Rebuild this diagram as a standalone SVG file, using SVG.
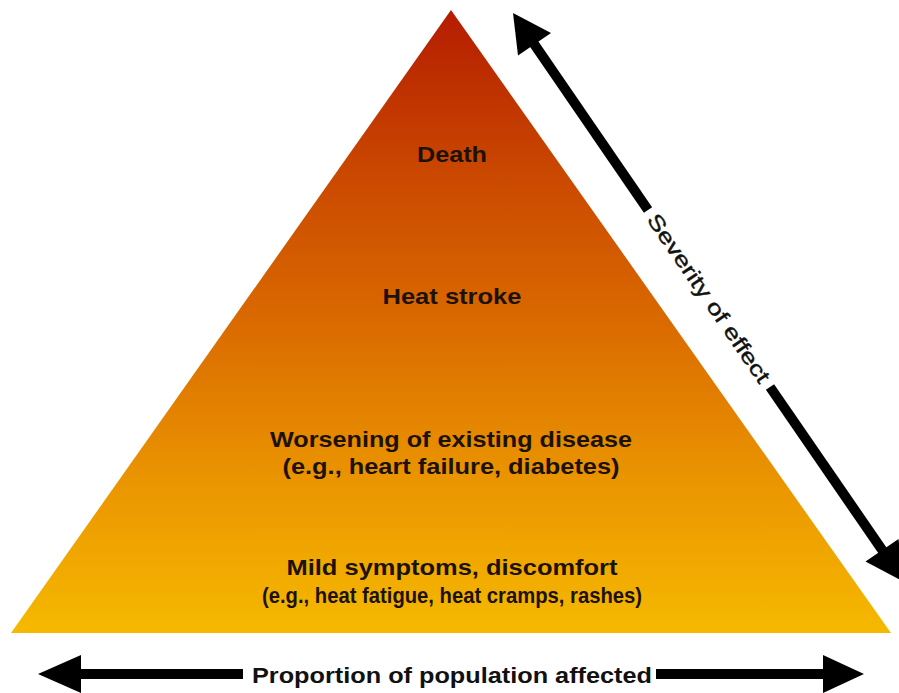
<svg xmlns="http://www.w3.org/2000/svg" width="899" height="693" viewBox="0 0 899 693">
<defs>
<linearGradient id="pyr" x1="0" y1="10" x2="0" y2="633" gradientUnits="userSpaceOnUse">
<stop offset="0" stop-color="#b41c00"/>
<stop offset="0.25" stop-color="#c94600"/>
<stop offset="0.5" stop-color="#da6a00"/>
<stop offset="0.75" stop-color="#ea9400"/>
<stop offset="1" stop-color="#f6b900"/>
</linearGradient>
<style>
.lbl{font-family:"Liberation Sans",Arial,sans-serif;font-weight:bold;font-size:21.5px;fill:#1c1208;text-anchor:middle}
.ax{font-family:"Liberation Sans",Arial,sans-serif;font-size:21px;fill:#111;text-anchor:middle;stroke:#111;stroke-width:0.4}
.axb{font-family:"Liberation Sans",Arial,sans-serif;font-weight:bold;font-size:22px;fill:#111;text-anchor:middle}
.shaft{stroke:#000;stroke-width:10;fill:none}
.head{fill:#000}
</style>
</defs>
<rect width="899" height="693" fill="#fff"/>
<g id="pyramid">
<polygon points="451,10 891,633 11,633" fill="url(#pyr)"/>
</g>
<g id="death"><text class="lbl" x="452" y="162" textLength="70" lengthAdjust="spacingAndGlyphs">Death</text></g>
<g id="heat-stroke"><text class="lbl" x="452" y="304" textLength="139" lengthAdjust="spacingAndGlyphs">Heat stroke</text></g>
<g id="worsening">
<text class="lbl" x="451" y="447" textLength="362" lengthAdjust="spacingAndGlyphs">Worsening of existing disease</text>
<text class="lbl" x="451" y="474" textLength="337" lengthAdjust="spacingAndGlyphs">(e.g., heart failure, diabetes)</text>
</g>
<g id="mild">
<text class="lbl" x="452" y="575" textLength="331" lengthAdjust="spacingAndGlyphs">Mild symptoms, discomfort</text>
<text class="lbl" x="452" y="603" textLength="380" lengthAdjust="spacingAndGlyphs">(e.g., heat fatigue, heat cramps, rashes)</text>
</g>
<g id="connectors">
<line class="shaft" x1="530" y1="38" x2="648" y2="210"/>
<line class="shaft" x1="770" y1="387" x2="887" y2="557"/>
<polygon class="head" points="513,13 551,33 518,55.6"/>
<polygon class="head" points="903.5,581.6 865.5,561.6 898.5,539"/>
<line class="shaft" x1="78" y1="674" x2="243" y2="674"/>
<line class="shaft" x1="656" y1="674" x2="826" y2="674"/>
<polygon class="head" points="38,674 81,655 81,693"/>
<polygon class="head" points="864,674 823,655 823,693"/>
</g>
<g id="severity-label">
<text class="ax" x="0" y="0" dominant-baseline="central" textLength="200" lengthAdjust="spacingAndGlyphs" transform="translate(709,298) rotate(55.5)">Severity of effect</text>
</g>
<g id="proportion-label">
<text class="axb" x="452" y="683" textLength="400" lengthAdjust="spacingAndGlyphs">Proportion of population affected</text>
</g>
</svg>
